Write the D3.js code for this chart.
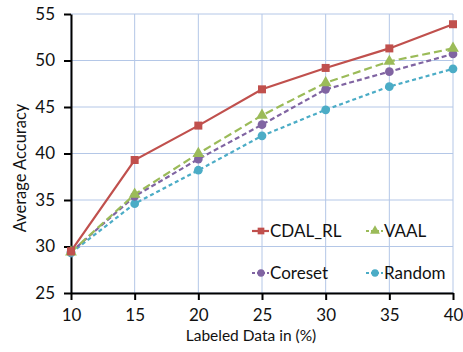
<!DOCTYPE html>
<html><head><meta charset="utf-8">
<script src="https://cdn.jsdelivr.net/npm/d3@7"></script>
<style>body{margin:0;background:#fff}svg{display:block}text{font-family:Lato,"Open Sans",sans-serif;fill:#111}</style>
</head><body><svg id="c" width="463" height="352"></svg>
<script>
const xValues = [10, 15, 20, 25, 30, 35, 40];
const cdalRL = [29.5, 39.3, 43.0, 46.9, 49.2, 51.3, 53.9];
const vaal = [29.4, 35.6, 40.0, 44.1, 47.6, 49.9, 51.3];
const coreset = [29.4, 35.4, 39.4, 43.1, 46.9, 48.8, 50.7];
const random = [29.3, 34.6, 38.2, 41.9, 44.7, 47.2, 49.1];
const yTicks = [25, 30, 35, 40, 45, 50, 55];
const seriesNames = ["CDAL_RL", "VAAL", "Coreset", "Random"];

const series = [
  {name: seriesNames[0], vals: cdalRL, color: "#c0504d", dash: null, sym: d3.symbolSquare, size: 64},
  {name: seriesNames[1], vals: vaal, color: "#9bbb59", dash: "8,4", sym: d3.symbolTriangle, size: 60},
  {name: seriesNames[2], vals: coreset, color: "#8064a2", dash: "5,3", sym: d3.symbolCircle, size: 60},
  {name: seriesNames[3], vals: random, color: "#4bacc6", dash: "4,3", sym: d3.symbolCircle, size: 60}
];

const svg = d3.select("#c");
const L = 71, R = 453, T = 14, B = 293;
const x = d3.scaleLinear().domain([10, 40]).range([L, R]);
const y = d3.scaleLinear().domain([25, 55]).range([B, T]);

// grid
const grid = svg.append("g").attr("stroke", "#b4c7e7").attr("stroke-width", 1);
xValues.forEach(v => grid.append("line").attr("x1", x(v)).attr("x2", x(v)).attr("y1", T).attr("y2", B));
yTicks.forEach(v => grid.append("line").attr("x1", L).attr("x2", R).attr("y1", y(v)).attr("y2", y(v)));

// axes
const xAxis = svg.append("g").attr("transform", `translate(0,${B})`)
  .call(d3.axisBottom(x).tickValues(xValues).tickSize(7).tickPadding(12).tickSizeOuter(0));
const yAxis = svg.append("g").attr("transform", `translate(${L},0)`)
  .call(d3.axisLeft(y).tickValues(yTicks).tickSize(7).tickPadding(9).tickSizeOuter(0));
[xAxis, yAxis].forEach(a => {
  a.select(".domain").attr("stroke", "#000").attr("stroke-width", 2);
  a.selectAll(".tick line").attr("stroke", "#000").attr("stroke-width", 2);
  a.selectAll(".tick text").attr("font-size", 17).attr("font-family", "Lato,'Open Sans',sans-serif").attr("fill", "#111");
});
xAxis.selectAll(".tick text").attr("dy", "0.55em");

svg.append("text").attr("x", 251).attr("y", 341).attr("text-anchor", "middle")
  .attr("font-size", 15.5).text("Labeled Data in (%)");
svg.append("text").attr("transform", `translate(26,168) rotate(-90)`).attr("text-anchor", "middle")
  .attr("font-size", 16.5).text("Average Accuracy");

// lines
const line = d3.line().x((d, i) => x(xValues[i])).y(d => y(d));
series.slice().reverse().forEach(s => {
  svg.append("path").datum(s.vals).attr("d", line).attr("fill", "none")
    .attr("stroke", s.color).attr("stroke-width", 2.2).attr("stroke-dasharray", s.dash);
  svg.append("g").selectAll("path").data(s.vals).join("path")
    .attr("transform", (d, i) => `translate(${x(xValues[i])},${y(d)})`)
    .attr("d", d3.symbol().type(s.sym).size(s.size)).attr("fill", s.color);
});

// legend
const legPos = [[252, 231], [366, 231], [252, 273], [366, 273]];
series.forEach((s, i) => {
  const [lx, ly] = legPos[i];
  const g = svg.append("g").attr("transform", `translate(${lx},${ly})`);
  g.append("line").attr("x1", 0).attr("x2", 17).attr("stroke", s.color).attr("stroke-width", 2.2)
    .attr("stroke-dasharray", s.dash ? "3,2" : null);
  g.append("path").attr("transform", "translate(9,0)").attr("d", d3.symbol().type(s.sym).size(s.size * 0.7)).attr("fill", s.color);
  g.append("text").attr("x", 18).attr("dy", "0.35em").attr("font-size", 17).text(s.name);
});
</script></body></html>
